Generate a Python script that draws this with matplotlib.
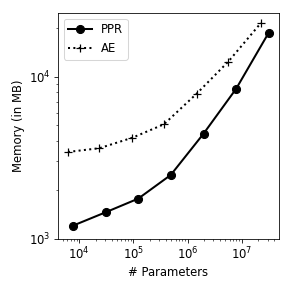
import numpy as np
import matplotlib
matplotlib.use('Agg')
import matplotlib.pyplot as plt

# values
ppr_params = [7.7e3, 3.1e4, 1.23e5, 4.9e5, 1.97e6, 7.9e6, 3.15e7]
ppr_memory = [1203, 1456, 1766, 2473, 4444, 8430, 18700]

ae_params = [6.2e3, 2.35e4, 9.6e4, 3.65e5, 1.47e6, 5.66e6, 2.27e7]
ae_memory = [3429, 3616, 4199, 5078, 7850, 12400, 21500]

plt.rcParams['font.size'] = 11.5

fig = plt.figure(figsize=(4, 4), dpi=72.75)
ax = fig.add_axes([0.199, 0.18, 0.759, 0.776])

ax.plot(ppr_params, ppr_memory, 'k-o', linewidth=2, markersize=8, label='PPR')
ax.plot(ae_params, ae_memory, 'k:+', linewidth=2, markersize=7, markeredgewidth=1.2, label='AE')

ax.set_xscale('log')
ax.set_yscale('log')
ax.set_ylim(1000, 24800)

ax.set_xlabel('# Parameters')
ax.set_ylabel('Memory (in MB)')
ax.legend(loc='upper left')

plt.savefig('out.png', dpi=72.75)
